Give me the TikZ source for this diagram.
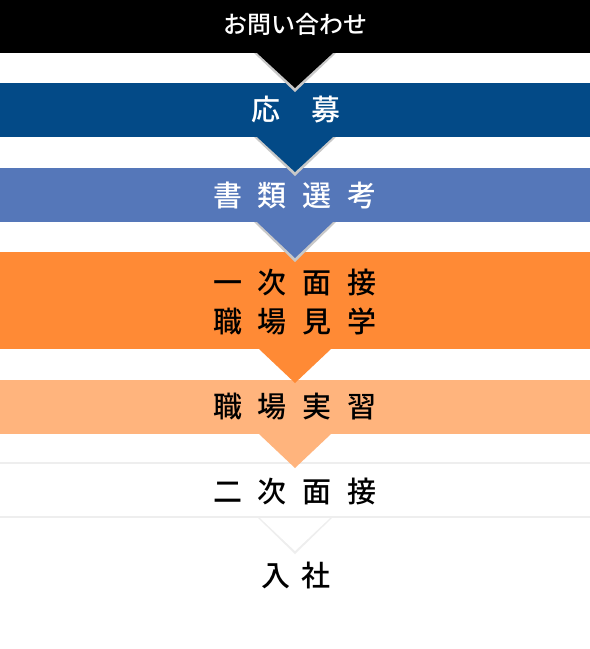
\documentclass[tikz,border=0pt]{standalone}
\usepackage{fontspec}
\setmainfont{Noto Sans CJK JP}
\newfontfamily\jpmed{Noto Sans CJK JP Medium}
\definecolor{cblack}{HTML}{000000}
\definecolor{cdblue}{HTML}{034A87}
\definecolor{clblue}{HTML}{5577B9}
\definecolor{corange}{HTML}{FF8A35}
\definecolor{clorange}{HTML}{FFB47D}
\definecolor{cshadow}{HTML}{C8C8C8}
\definecolor{cfaint}{HTML}{EEEEEE}
\begin{document}
\begin{tikzpicture}[x=1pt,y=-1pt,
  band/.style={fill=#1,draw=none},
  lbl/.style={inner sep=0pt,font=\jpmed\fontsize{29}{34}\selectfont,text=#1},
  lbl/.default=black]
\useasboundingbox[fill=white] (0,0) rectangle (590,649);
% bands
\fill[band=cblack]   (0,0)   rectangle (590,53);
\fill[band=cdblue]   (0,83)  rectangle (590,137);
\fill[band=clblue]   (0,168) rectangle (590,222);
\fill[band=corange]  (0,252) rectangle (590,349);
\fill[band=clorange] (0,380) rectangle (590,434);
\draw[cfaint,line width=1.5pt] (0,463) -- (590,463);
\draw[cfaint,line width=1.5pt] (0,517) -- (590,517);
% triangles
\fill[cshadow] (254,53) -- (336,53) -- (295,92) -- cycle;
\fill[cblack]  (257,53) -- (333,53) -- (295,88) -- cycle;
\fill[cshadow] (254,137) -- (336,137) -- (295,176) -- cycle;
\fill[cdblue]  (257,137) -- (333,137) -- (295,172) -- cycle;
\fill[cshadow] (254,222) -- (336,222) -- (295,262) -- cycle;
\fill[clblue]  (257,222) -- (333,222) -- (295,258) -- cycle;
\fill[corange] (259,349) -- (331,349) -- (295,383) -- cycle;
\fill[clorange](259,434) -- (331,434) -- (295,468) -- cycle;
\fill[cfaint]  (257,517) -- (333,517) -- (295,554) -- cycle;
\fill[white]   (260,518) -- (330,518) -- (295,551) -- cycle;
% labels
\node[inner sep=0pt,font=\jpmed\fontsize{24}{28}\selectfont,text=white] (t1) at (295,24) {お問い合わせ};
\node[lbl=white] (t2) at (296,110) {応\hspace{32pt}募};
\node[lbl=white] (t3) at (295,195) {書\hspace{16pt}類\hspace{16pt}選\hspace{16pt}考};
\node[lbl] (t4a) at (295,282) {一\hspace{16pt}次\hspace{16pt}面\hspace{16pt}接};
\node[lbl] (t4b) at (295,321) {職\hspace{16pt}場\hspace{16pt}見\hspace{16pt}学};
\node[lbl] (t5) at (295,407) {職\hspace{16pt}場\hspace{16pt}実\hspace{16pt}習};
\node[lbl] (t6) at (295,491) {二\hspace{16pt}次\hspace{16pt}面\hspace{16pt}接};
\node[lbl] (t7) at (296,575) {入\hspace{11pt}社};
\end{tikzpicture}
\end{document}
